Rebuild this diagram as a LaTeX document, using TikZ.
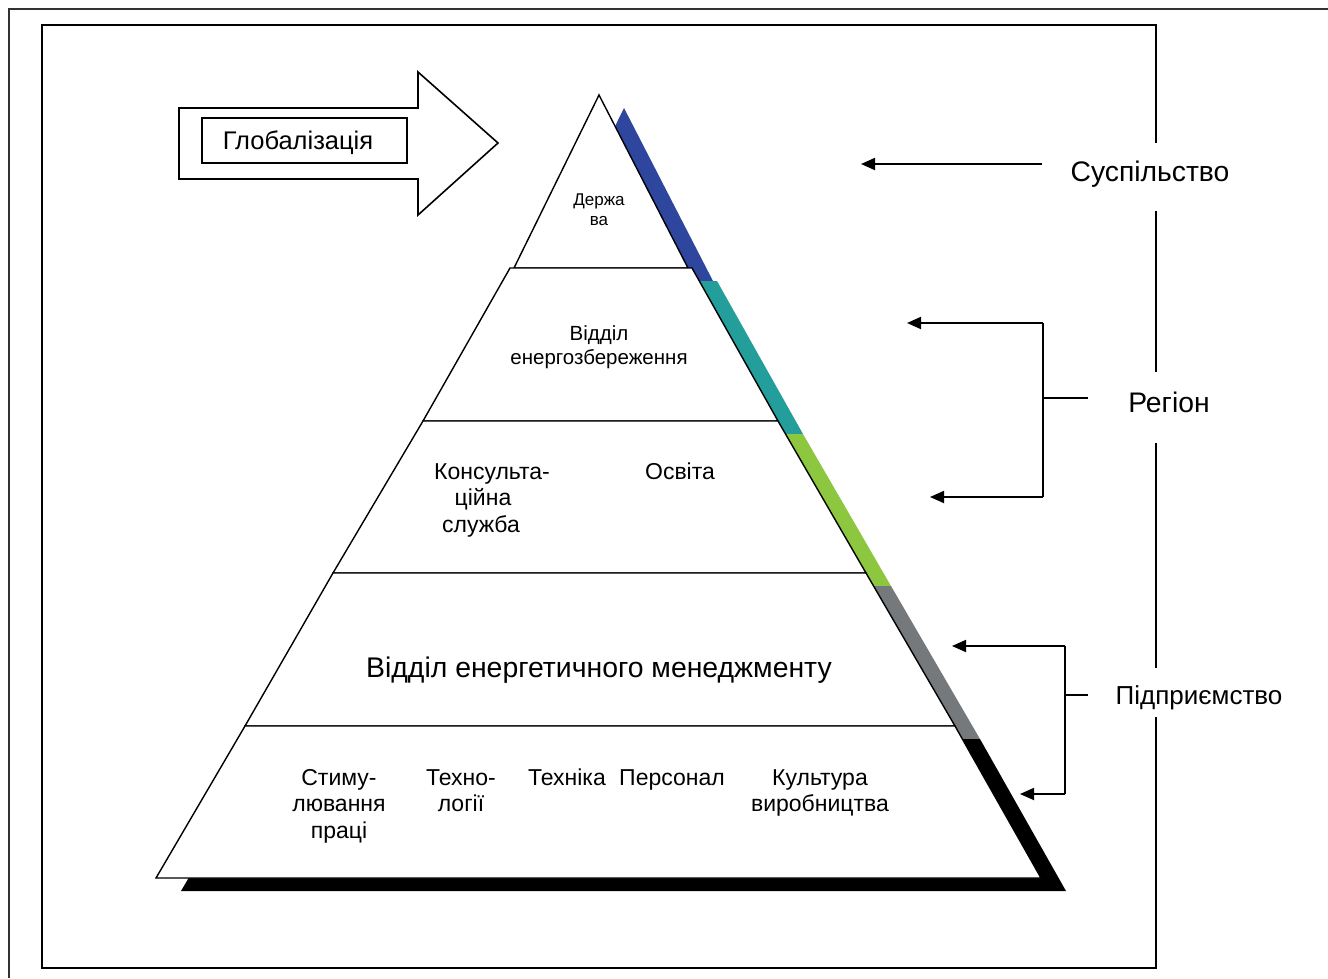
\documentclass[tikz,border=0pt]{standalone}
\usepackage{fontspec}
\setmainfont{Liberation Sans}
\usetikzlibrary{arrows.meta}
\definecolor{cblue}{RGB}{46,70,158}
\definecolor{cteal}{RGB}{35,158,154}
\definecolor{cgreen}{RGB}{141,198,63}
\definecolor{cgray}{RGB}{118,121,123}
\definecolor{cframe}{RGB}{50,50,50}
\tikzset{
  tier/.style={draw=black,fill=white,line width=1.4pt,line join=miter},
  lbl/.style={inner sep=0pt,align=center,font=\fontsize{26}{31}\selectfont},
  mid/.style={inner sep=0pt,align=center,font=\fontsize{23}{26.5}\selectfont},
  sml/.style={inner sep=0pt,align=center,font=\fontsize{17}{20}\selectfont},
  conn/.style={line width=1.8pt,-{Triangle[length=14pt,width=12pt]}},
  brk/.style={line width=1.8pt},
}
\begin{document}
\begin{tikzpicture}[x=1pt,y=-1pt]
\useasboundingbox (0,0) rectangle (1328,978);
% outer frame
\draw[cframe,line width=2.4pt] (9,978) -- (9,9) -- (1328,9);
% inner frame
\draw[black,line width=2pt] (1156,143) -- (1156,25) -- (42,25) -- (42,968) -- (1156,968) -- (1156,717);
\draw[black,line width=2pt] (1156,211) -- (1156,372);
\draw[black,line width=2pt] (1156,443) -- (1156,668);
% shadows
\fill[cblue] (624,108) -- (539,281) -- (713,281) -- cycle;
\fill[cteal] (535,281) -- (717,281) -- (803,434) -- (448,434) -- cycle;
\fill[cgreen] (448,434) -- (803,434) -- (891,586) -- (358,586) -- cycle;
\fill[cgray] (358,586) -- (891,586) -- (980,739) -- (270,739) -- cycle;
\fill[black] (270,739) -- (980,739) -- (1066,891) -- (181,891) -- cycle;
% tiers
\draw[tier] (599,95) -- (514,268) -- (688,268) -- cycle;
\draw[tier] (510,268) -- (692,268) -- (778,421) -- (423,421) -- cycle;
\draw[tier] (423,421) -- (778,421) -- (866,573) -- (333,573) -- cycle;
\draw[tier] (333,573) -- (866,573) -- (955,726) -- (245,726) -- cycle;
\draw[tier] (245,726) -- (955,726) -- (1041,878) -- (156,878) -- cycle;
% globalization arrow
\draw[line width=1.6pt,line join=miter] (179,108) -- (418,108) -- (418,72) -- (498,143) -- (418,215) -- (418,179) -- (179,179) -- cycle;
\draw[line width=1.6pt] (202,118) rectangle (407,163);
\node[lbl,font=\fontsize{25.5}{30}\selectfont] (glob) at (298,143) {Глобалізація};
% texts in pyramid
\node[sml] (derzh) at (599,210) {Держа\\ва};
\node[sml,font=\fontsize{20.5}{24}\selectfont] (ves) at (599,347) {Відділ\\енергозбереження};
\node[mid,anchor=base] (kons1) at (492,479) {Консульта-};
\node[mid,anchor=base] (kons2) at (483,505.5) {ційна};
\node[mid,anchor=base] (kons3) at (481,532) {служба};
\node[mid,anchor=north] (osv) at (680,463) {Освіта};
\node[lbl,font=\fontsize{28.4}{33}\selectfont] (vem) at (599,670) {Відділ енергетичного менеджменту};
\node[mid,anchor=north] (stym) at (339,769) {Стиму-\\лювання\\праці};
\node[mid,anchor=north] (tekhn) at (461,769) {Техно-\\логії};
\node[mid,anchor=north] (tekh) at (567,769) {Техніка};
\node[mid,anchor=north] (pers) at (672,769) {Персонал};
\node[mid,anchor=north] (kult) at (820,769) {Культура\\виробництва};
% right labels
\node[lbl,font=\fontsize{28.3}{33}\selectfont] (susp) at (1150,174) {Суспільство};
\node[lbl,font=\fontsize{28.3}{33}\selectfont] (reg) at (1169,402) {Регіон};
\node[lbl] (pidp) at (1199,698) {Підприємство};
% society arrow
\coordinate (s1) at (1042,164);
\coordinate (s2) at (861,164);
\draw[conn] (s1) -- (s2);
% region bracket
\coordinate (r0) at (1088,398);
\coordinate (rm) at (1043,398);
\coordinate (rt) at (1043,323);
\coordinate (rb) at (1043,497);
\coordinate (rta) at (907,323);
\coordinate (rba) at (930,497);
\draw[brk] (r0) -- (rm);
\draw[brk] (rt) -- (rb);
\draw[conn] (rt) -- (rta);
\draw[conn] (rb) -- (rba);
% enterprise bracket
\coordinate (p0) at (1088,695);
\coordinate (pm) at (1065,695);
\coordinate (pt) at (1065,646);
\coordinate (pb) at (1065,794);
\coordinate (pta) at (952,646);
\coordinate (pba) at (1020,794);
\draw[brk] (p0) -- (pm);
\draw[brk] (pt) -- (pb);
\draw[conn] (pt) -- (pta);
\draw[conn] (pb) -- (pba);
\end{tikzpicture}
\end{document}
